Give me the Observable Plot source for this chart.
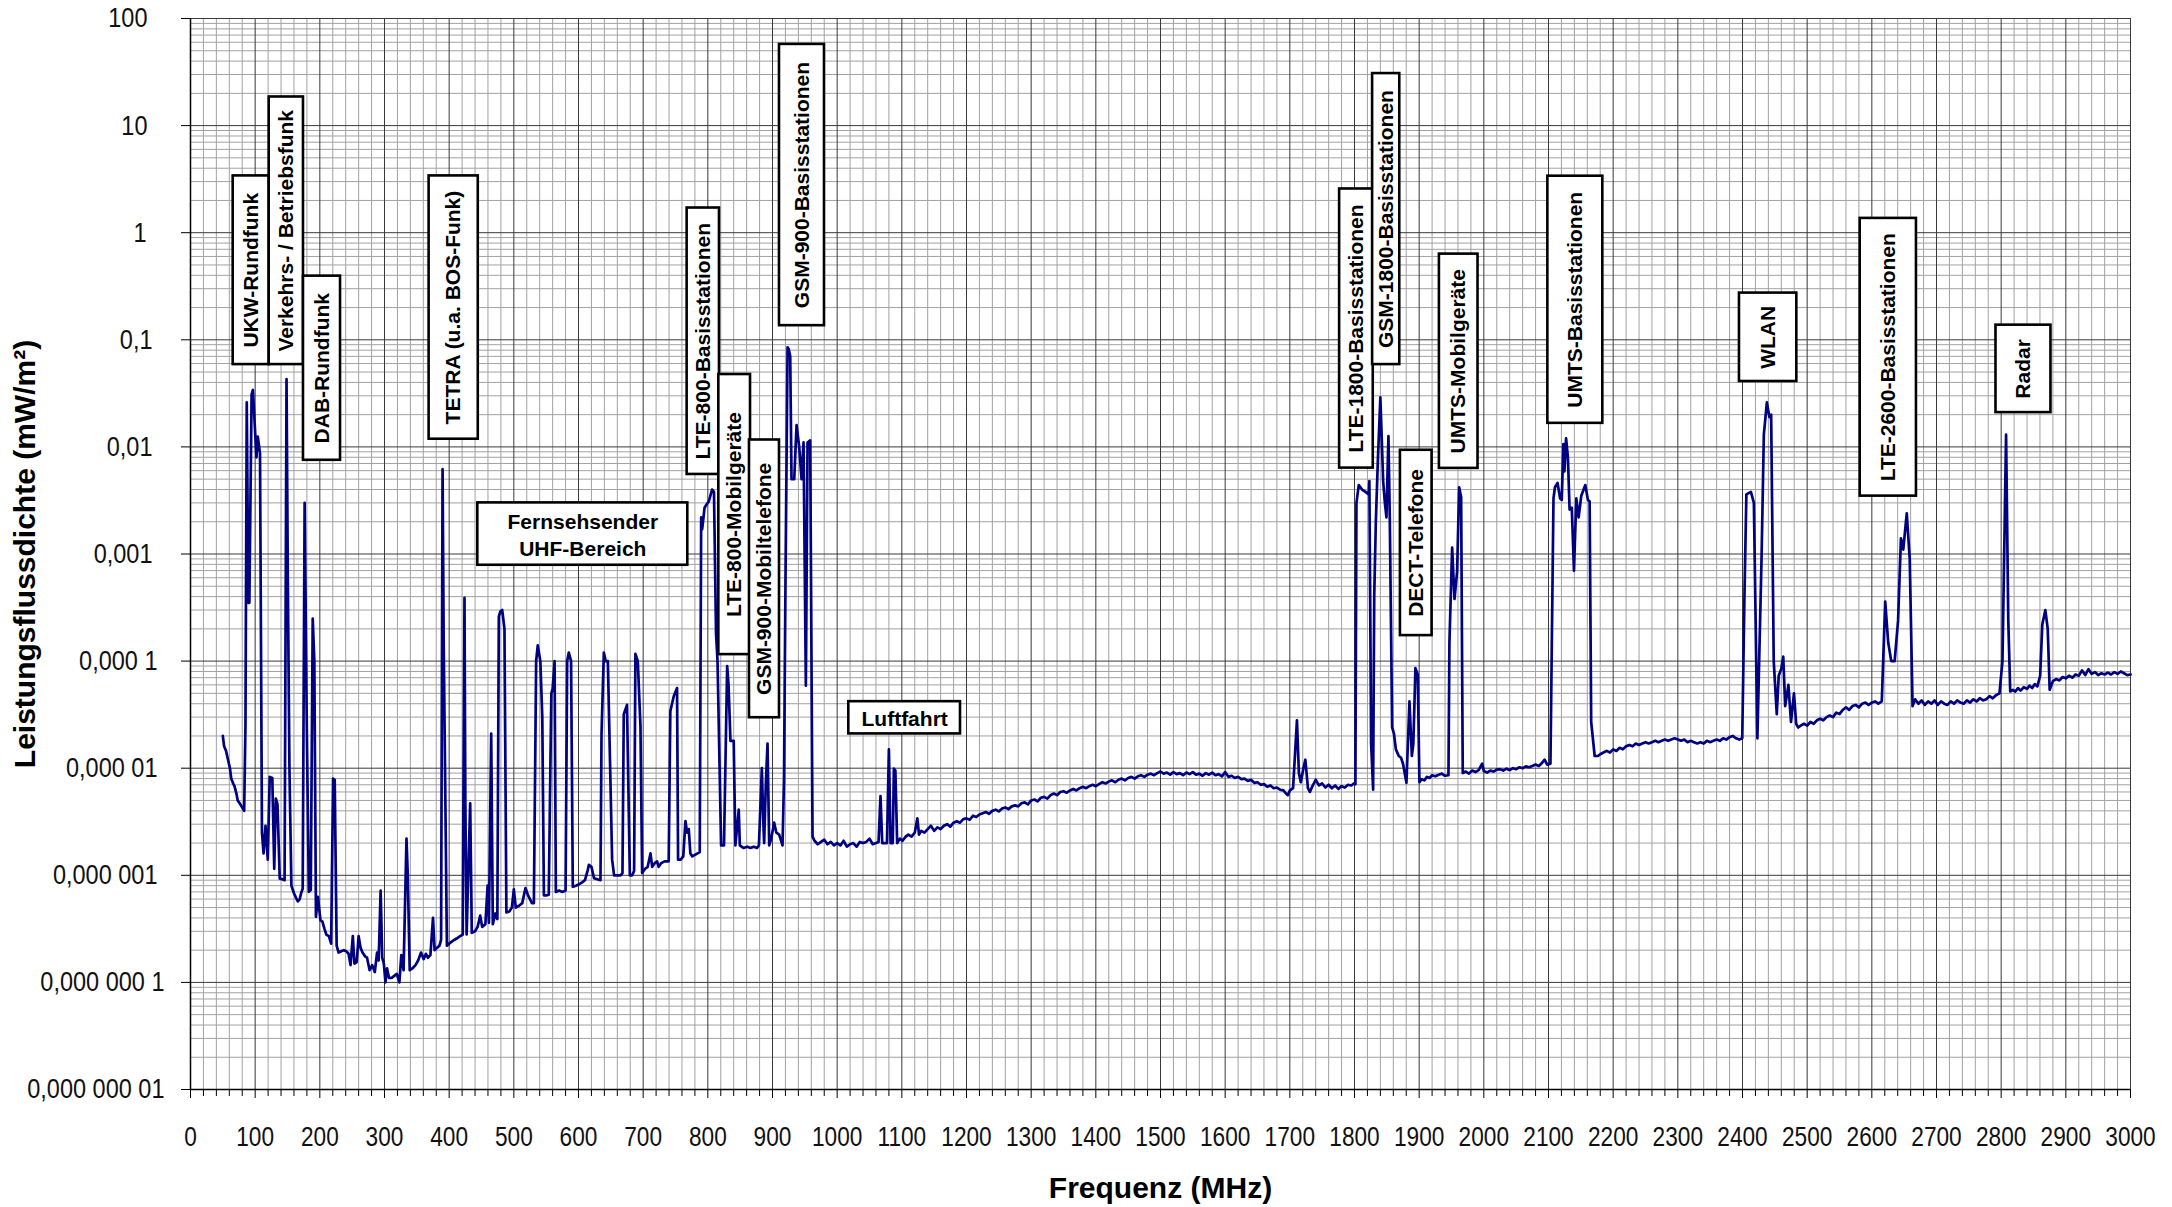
<!DOCTYPE html>
<html>
<head>
<meta charset="utf-8">
<script src="https://cdn.jsdelivr.net/npm/d3@7"></script>
<script src="https://cdn.jsdelivr.net/npm/@observablehq/plot@0.6"></script>
<style>
  html, body { margin: 0; padding: 0; background: #fff; }
  #chart svg { display: block; }
</style>
</head>
<body>
<div id="chart"></div>
<script>
// ---- Data: measured power flux density spectrum ----
const freqMHz = [
  50,52,55,58,61,63,66,68,71,73,76,78,81,83,85,87,89.5,91,94.5,96.5,102,104,107.5,110.5,113,116,119.5,122.5,126.5,129.5,132,134.5,138,142,145.5,148.5,150.5,153,156,160,163,166,169,171,173.5,176.5,180,183,186,189,191.5,194,197,201,204,207,210,214,217.5,220.5,223,226,229,233,237,241,244.5,247.5,251,253.5,257,260,263,266,270,273,277,281,285,288.5,291,294,296.5,299,301.5,304,307,311,315,319,323,326,329.5,334,336,339,343,348,352,356.5,360.5,364,367,371,375,377.5,381,385,387.5,389.8,391.5,396.5,400,404,408,413,417,421,423.7,425,427,432.5,435,440,444,448,451,456,459.5,461.5,465,467.5,471.5,474.5,476.8,479,482,485.5,488.5,493,497,500,503,508,513,518,522,528,531,534.5,537,541,544,546.5,550,554,558,560,563,565,570,575,580,582.5,585,588.5,591.2,596,600,605.5,610,614,616,620,624,629,634,635.6,639.2,642,645.4,649.5,652,655,660,665,668,670,675,679.4,683,686,688,691.7,695.8,698.4,703,707,711.3,714,718,721.5,724,728,733,739.5,742,747.3,752.4,754,758,762,765.4,768,770.5,773,776,780,784,787.5,789.7,791.2,794.9,798,801.5,806.6,809.5,812.7,815,820.5,825,829.9,832,835,840,842.6,847.8,849.5,855,861,866,871,876,879,883.5,886,887.1,889.7,892.3,894.9,898,902.6,906,910.3,915.5,917.8,920.1,923.3,925,927.4,929.4,933.6,937.2,941.3,944.9,948,951.6,954.2,958.3,961.9,
  965,970,975,980,985,990,995,1000,1005,1010,1015,1020,1025,1030,1035,1040,1045,1050,1055,1060,1064,1067,1069.7,1074,1077,1080,1082.6,1086,1087.7,1090,1092.8,1097,1101,1106,1110,1115,1120,1124,1126.6,1130,1135,1140,1145,1150,1155,1160,1165,1170,1175,1180,1185,1190,1195,1200,1205,1210,1215,1220,1225,1230,1235,1240,1245,1250,1255,1260,1265,1270,1275,1280,1285,1290,1295,1300,1305,1310,1315,1320,1325,1330,1335,1340,1345,1350,1355,1360,1365,1370,1375,1380,1385,1390,1395,1400,1405,1410,1415,1420,1425,1430,1435,1440,1445,1450,1455,1460,1465,1470,1475,1480,1485,1490,1495,1500,1505,1510,1515,1520,1525,1530,1535,1540,1545,1550,1555,1560,1565,1570,1575,1580,1585,1590,1595,1600,1605,1610,1615,1620,1625,1630,1635,1640,1645,1650,1655,1660,1665,1670,1675,1680,1685,1690,1693,1697,1700,1705,1711,1714,1717,1721,1724,1728,1731,1735,1740,1745,1750,1755,1760,1765,1770,1775,1780,1785,1790,1795,1799,1801.4,1803,1806.6,1811.7,1817,1822,1823,1825.7,1828.8,1830.5,1833,1836,1840,1844.3,1847,1849.4,1852.5,1854.6,1858.2,1861,1864,1868.5,1872,1875,1880.3,1885,1888.7,1891,1894.2,1897.8,1900.4,1904,1908,1912,1916,1920,1925,1930,1935,1940,1945.3,1946.8,1951,1954.6,1958.7,1961.8,1964.9,1967.4,1972,1977,1982,1987,1992,1997.4,2000,2005,2010,2015,2020,2025,2030,2035,2040,2045,2050,2055,2060,2065,2070,2075,2080,2085,2090,2094,2098,2103,2107.7,2110,2114,2118,2120.5,2123,2124.6,2127.2,2130,2132.6,2136,2139.4,2143,2146.6,2150.7,2156.9,2161,2163.6,2166,2171.4,2176.5,2180,2185,2190,2195,2200,2205,2210,2215,2220,2225,2230,2235,2240,2245,2250,2255,2260,2265,2270,2275,2280,2285,2290,2295,2300,2305,2310,2315,2320,2325,2330,2335,2340,2345,2350,2355,2360,2365,2370,2375,2380,2385,2390,2395,2399.6,2403,2406,2413,2417.6,2423,2429.6,2433,2437.7,2441.6,2444.3,2448.3,2453,2456,2460,2463,2466,2471,2475,2479.6,2483,2486,2490,2495,2500,2505,2510,2515,2520,2525,2530,2535,2540,2545,2550,2555,2560,2565,2570,2575,2580,2585,2590,2595,2600,2605,2610,2615.4,2620.7,2625.3,2630,2635.3,2640.6,2645,2648.6,2654,2658.6,2663,2667,2672,2677,2682,2687,2692,2697,2702,2707,2712,2717,2722,2727,2732,2737,2742,2747,2752,2757,2762,2767,2772,2777,2782,2787,2792,2797.4,2802,2807.6,2811,2814,2818,2822,2826,2830,2835,2840,2843.8,2848,2852,2856,2860.3,2863.6,2868.3,2872,2875,2880,2885,2890,2895,2900,2905,2910,2915,2920,2925,2930,2935,2940,2945,2950,2955,2960,2965,2970,2975,2980,2985,2990,2995,3000
];
const powerDensity = [
  2.0e-5,1.6e-5,1.45e-5,1.2e-5,1.0e-5,8.0e-6,7.2e-6,6.8e-6,5.8e-6,5.0e-6,4.7e-6,4.5e-6,4.2e-6,4.0e-6,2.5e-5,0.026,3.5e-4,3.5e-4,0.031,0.034,0.008,0.0125,0.0087,2.5e-6,1.6e-6,2.9e-6,1.4e-6,8.3e-6,8.1e-6,1.15e-6,5.2e-6,4.6e-6,9.3e-7,9.2e-7,9.0e-7,0.043,5.8e-4,1.0e-5,8.0e-7,6.8e-7,6.2e-7,5.7e-7,6.0e-7,6.8e-7,7.5e-7,0.003,2.0e-5,7.0e-7,7.3e-7,2.5e-4,1.0e-4,4.1e-7,6.3e-7,3.8e-7,3.7e-7,3.2e-7,2.8e-7,2.7e-7,2.3e-7,8.0e-6,7.8e-6,2.2e-7,1.9e-7,1.95e-7,2.0e-7,1.95e-7,1.85e-7,1.45e-7,2.7e-7,1.5e-7,1.55e-7,2.7e-7,2.1e-7,1.9e-7,1.75e-7,1.7e-7,1.3e-7,1.45e-7,1.25e-7,1.9e-7,1.6e-7,7.2e-7,1.7e-7,1.5e-7,1.0e-7,1.35e-7,1.1e-7,1.1e-7,1.15e-7,1.2e-7,1.0e-7,1.8e-7,1.3e-7,2.2e-6,1.0e-6,1.3e-7,1.35e-7,1.45e-7,1.6e-7,1.9e-7,1.65e-7,1.85e-7,1.7e-7,1.8e-7,4.0e-7,2.0e-7,2.1e-7,2.2e-7,2.5e-7,0.0062,1.6e-4,2.2e-7,2.3e-7,2.4e-7,2.5e-7,2.6e-7,2.7e-7,2.8e-7,3.9e-4,5.0e-6,2.8e-7,4.7e-6,2.9e-7,3.0e-7,3.3e-7,4.2e-7,3.3e-7,3.5e-7,8.0e-7,3.6e-7,2.1e-5,3.5e-7,4.4e-7,3.9e-7,2.6e-4,2.9e-4,3.0e-4,2.0e-4,4.5e-7,4.6e-7,5.0e-7,7.4e-7,5.0e-7,5.2e-7,5.5e-7,7.6e-7,6.5e-7,5.5e-7,5.5e-7,1.0e-4,1.4e-4,1.0e-4,3.0e-5,6.5e-7,6.5e-7,6.6e-7,5.0e-5,5.5e-5,1.0e-4,7.0e-7,7.2e-7,7.0e-7,7.2e-7,1.0e-4,1.2e-4,1.0e-4,7.8e-7,8.0e-7,8.2e-7,8.6e-7,9.0e-7,1.1e-6,1.25e-6,1.2e-6,9.4e-7,9.2e-7,9.0e-7,2.1e-5,1.2e-4,1.0e-4,1.0e-4,7.0e-6,1.4e-6,1.0e-6,1.0e-6,1.0e-6,1.05e-6,3.2e-5,3.9e-5,1.0e-6,1.0e-6,1.1e-6,1.17e-4,1.0e-4,2.5e-5,1.05e-6,1.15e-6,1.2e-6,1.6e-6,1.2e-6,1.3e-6,1.35e-6,1.2e-6,1.3e-6,1.35e-6,1.35e-6,3.4e-5,4.7e-5,5.6e-5,1.4e-6,1.4e-6,1.5e-6,3.2e-6,2.5e-6,2.7e-6,1.6e-6,1.5e-6,1.55e-6,1.6e-6,1.65e-6,0.0022,0.0017,0.0027,0.0029,0.0031,0.0040,0.0038,1.8e-4,1.0e-4,1.9e-6,1.9e-6,9.0e-5,6.0e-5,1.8e-5,1.8e-5,1.9e-6,4.1e-6,1.9e-6,1.8e-6,1.85e-6,1.8e-6,1.85e-6,1.8e-6,1.9e-6,1.0e-5,2.9e-6,2.0e-6,7.2e-6,1.7e-5,1.9e-6,2.2e-6,3.1e-6,2.5e-6,2.4e-6,1.9e-6,8.0e-6,5.7e-4,0.085,0.082,0.07,0.005,0.005,0.016,0.01,0.005,0.011,5.9e-5,0.011,0.0115,2.3e-6,
  2.1e-6,1.95e-6,2.05e-6,2.15e-6,1.95e-6,2.05e-6,1.9e-6,2.0e-6,1.9e-6,2.1e-6,1.85e-6,1.95e-6,2.0e-6,1.85e-6,2.05e-6,2.0e-6,2.05e-6,2.2e-6,1.95e-6,2.0e-6,2.05e-6,5.5e-6,2.0e-6,2.0e-6,2.0e-6,1.5e-5,2.0e-6,2.0e-6,9.9e-6,9.5e-6,2.0e-6,2.2e-6,2.1e-6,2.3e-6,2.4e-6,2.3e-6,2.5e-6,3.4e-6,2.4e-6,2.6e-6,2.5e-6,2.7e-6,2.9e-6,2.6e-6,2.8e-6,2.7e-6,2.9e-6,3.0e-6,2.85e-6,3.1e-6,3.2e-6,3.1e-6,3.35e-6,3.4e-6,3.3e-6,3.6e-6,3.5e-6,3.7e-6,3.8e-6,3.9e-6,3.75e-6,4.0e-6,4.1e-6,3.95e-6,4.2e-6,4.3e-6,4.15e-6,4.4e-6,4.5e-6,4.4e-6,4.7e-6,4.8e-6,4.6e-6,5.0e-6,5.1e-6,4.9e-6,5.3e-6,5.4e-6,5.2e-6,5.6e-6,5.8e-6,5.6e-6,6.0e-6,6.1e-6,5.9e-6,6.2e-6,6.4e-6,6.2e-6,6.5e-6,6.7e-6,6.5e-6,6.8e-6,7.0e-6,6.8e-6,7.1e-6,7.4e-6,7.2e-6,7.5e-6,7.7e-6,7.4e-6,7.8e-6,8.0e-6,7.7e-6,8.1e-6,8.3e-6,8.0e-6,8.4e-6,8.6e-6,8.3e-6,8.7e-6,8.9e-6,8.6e-6,9.0e-6,9.3e-6,8.9e-6,9.1e-6,8.7e-6,9.2e-6,8.8e-6,9.0e-6,8.6e-6,9.1e-6,8.8e-6,9.2e-6,8.7e-6,8.9e-6,8.5e-6,9.0e-6,8.7e-6,9.1e-6,8.6e-6,8.8e-6,8.4e-6,9.2e-6,8.3e-6,8.5e-6,8.1e-6,8.3e-6,7.9e-6,8.0e-6,7.6e-6,7.8e-6,7.3e-6,7.4e-6,7.0e-6,7.1e-6,6.7e-6,6.9e-6,6.5e-6,6.6e-6,6.3e-6,6.2e-6,5.9e-6,5.6e-6,6.2e-6,6.5e-6,2.8e-5,9.0e-6,7.4e-6,1.0e-5,1.2e-5,6.5e-6,6.0e-6,6.8e-6,7.8e-6,6.9e-6,7.2e-6,6.6e-6,7.0e-6,6.5e-6,6.9e-6,6.4e-6,6.8e-6,6.6e-6,7.0e-6,6.9e-6,7.2e-6,7.1e-6,0.003,0.0044,0.0040,0.0038,0.0036,0.0048,1.7e-5,6.3e-6,4.0e-4,0.002,0.0071,0.029,0.0048,0.003,0.0022,0.0126,0.0021,2.4e-5,2.1e-5,1.5e-5,1.3e-5,1.25e-5,1.1e-5,7.3e-6,4.2e-5,1.3e-5,1.7e-5,8.6e-5,7.5e-5,7.4e-6,7.9e-6,7.7e-6,8.3e-6,8.1e-6,8.6e-6,8.4e-6,8.7e-6,8.9e-6,8.5e-6,8.6e-6,1.5e-4,1.15e-3,3.8e-4,6.9e-4,0.0042,0.0034,9.0e-6,9.3e-6,8.9e-6,9.5e-6,9.2e-6,9.6e-6,1.1e-5,9.4e-6,9.1e-6,9.5e-6,9.3e-6,9.7e-6,9.8e-6,9.5e-6,9.9e-6,9.6e-6,1.0e-5,9.8e-6,1.02e-5,1.0e-5,1.04e-5,1.02e-5,1.05e-5,1.08e-5,1.05e-5,1.12e-5,1.2e-5,1.08e-5,1.1e-5,0.0033,0.0042,0.0046,0.0033,0.0032,0.0106,0.0059,0.012,0.008,0.0026,0.0027,7.0e-4,0.0033,0.0022,0.0035,0.0044,0.0032,0.0031,2.7e-5,1.3e-5,1.3e-5,1.35e-5,1.4e-5,1.45e-5,1.4e-5,1.5e-5,1.45e-5,1.55e-5,1.5e-5,1.6e-5,1.65e-5,1.6e-5,1.7e-5,1.65e-5,1.7e-5,1.75e-5,1.7e-5,1.75e-5,1.8e-5,1.75e-5,1.8e-5,1.85e-5,1.8e-5,1.85e-5,1.9e-5,1.85e-5,1.8e-5,1.85e-5,1.75e-5,1.8e-5,1.75e-5,1.7e-5,1.75e-5,1.7e-5,1.8e-5,1.75e-5,1.8e-5,1.85e-5,1.8e-5,1.9e-5,1.85e-5,1.95e-5,2.0e-5,1.9e-5,1.85e-5,1.9e-5,4.0e-4,0.0036,0.0038,0.0030,1.9e-5,1.0e-3,0.013,0.026,0.019,0.020,1.0e-4,3.2e-5,7.3e-5,8.5e-5,1.1e-4,3.8e-5,6.0e-5,2.7e-5,5.0e-5,2.6e-5,2.4e-5,2.5e-5,2.6e-5,2.5e-5,2.7e-5,2.6e-5,2.8e-5,2.9e-5,2.8e-5,3.0e-5,3.1e-5,3.0e-5,3.3e-5,3.2e-5,3.5e-5,3.7e-5,3.5e-5,3.8e-5,3.9e-5,3.7e-5,4.0e-5,4.1e-5,3.9e-5,4.1e-5,4.2e-5,4.0e-5,4.2e-5,3.6e-4,1.5e-4,1.0e-4,1.0e-4,2.4e-4,0.0014,0.0011,0.0024,9.0e-4,3.8e-5,4.4e-5,4.0e-5,4.3e-5,3.9e-5,4.2e-5,4.0e-5,4.3e-5,3.9e-5,4.2e-5,4.0e-5,3.9e-5,4.2e-5,4.0e-5,4.3e-5,4.1e-5,4.0e-5,4.3e-5,4.1e-5,4.4e-5,4.2e-5,4.5e-5,4.3e-5,4.4e-5,4.7e-5,4.5e-5,4.8e-5,5.0e-5,1.0e-4,0.013,2.4e-4,5.2e-5,5.4e-5,5.2e-5,5.6e-5,5.3e-5,5.7e-5,5.5e-5,5.9e-5,5.6e-5,6.1e-5,5.8e-5,7.3e-5,2.2e-4,3.0e-4,2.0e-4,5.4e-5,6.5e-5,6.8e-5,6.6e-5,7.1e-5,6.9e-5,7.3e-5,7.0e-5,7.5e-5,7.3e-5,8.2e-5,7.4e-5,8.4e-5,7.6e-5,7.9e-5,7.4e-5,7.7e-5,7.5e-5,7.8e-5,7.5e-5,7.9e-5,7.6e-5,8.0e-5,7.7e-5,7.4e-5,7.5e-5
];

// ---- Axis ticks ----
const xTickValues = d3.range(0, 3001, 100);
const yTickValues = [1e-8, 1e-7, 1e-6, 1e-5, 1e-4, 1e-3, 1e-2, 1e-1, 1, 10, 100];
const yTickLabels = ["0,000 000 01", "0,000 000 1", "0,000 001", "0,000 01", "0,000 1", "0,001", "0,01", "0,1", "1", "10", "100"];

// ---- Annotation boxes (frequency range, value range) ----
const bandNames = ["UKW-Rundfunk", "Verkehrs- / Betriebsfunk", "DAB-Rundfunk", "TETRA (u.a. BOS-Funk)", "Fernsehsender\nUHF-Bereich", "LTE-800-Basisstationen", "LTE-800-Mobilgeräte", "GSM-900-Mobiltelefone", "GSM-900-Basisstationen", "Luftfahrt", "LTE-1800-Basisstationen", "GSM-1800-Basisstationen", "DECT-Telefone", "UMTS-Mobilgeräte", "UMTS-Basisstationen", "WLAN", "LTE-2600-Basisstationen", "Radar"];
const bandFrom  = [66, 121.7, 174.7, 369, 444.3, 768, 817, 864.4, 910.8, 1018, 1777, 1828, 1871, 1931.3, 2099, 2395.3, 2582, 2792];
const bandTo    = [121.7, 174.7, 232, 445, 769, 818, 866, 910.8, 980.4, 1190.7, 1829, 1870, 1920, 1991, 2184, 2484, 2669, 2877];
const bandTop   = [3.39, 18.5, 0.393, 3.39, 0.0030, 1.70, 0.0474, 0.0116, 57.3, 4.18e-5, 2.56, 30.6, 0.0093, 0.631, 3.37, 0.273, 1.36, 0.137];
const bandBottom= [0.0587, 0.0587, 0.0075, 0.0118, 7.85e-4, 0.00553, 1.15e-4, 2.96e-5, 0.1355, 2.09e-5, 0.00634, 0.0587, 1.73e-4, 0.0063, 0.0166, 0.0408, 0.00347, 0.0209];
const bandVertical = [true, true, true, true, false, true, true, true, true, false, true, true, true, true, true, true, true, true];

const spectrum = freqMHz.map((f, i) => ({f, v: powerDensity[i]}));
const bands = bandNames.map((name, i) => ({
  name, x1: bandFrom[i], x2: bandTo[i], y1: bandBottom[i], y2: bandTop[i], vertical: bandVertical[i],
  xm: (bandFrom[i] + bandTo[i]) / 2, ym: Math.sqrt(bandTop[i] * bandBottom[i])
}));

const xMinor = d3.range(0, 3001, 20).filter(d => d % 100 !== 0);
const yMinor = yTickValues.slice(0, -1).flatMap(d => [2,3,4,5,6,7,8,9].map(k => d * k));

const sans = "'Liberation Sans', Arial, Helvetica, sans-serif";
// horizontal nudge of each y tick label (the original's labels are not flush-right)
const yLabelNudge = [7, 7, 0, 0, 0, -5, -5, -5, -11, -10, -10];

const chart = Plot.plot({
  width: 2172,
  height: 1207,
  marginLeft: 190,
  marginRight: 42,
  marginTop: 18,
  marginBottom: 118,
  style: {background: "white", fontFamily: sans, color: "black"},
  x: {domain: [0, 3000]},
  y: {type: "log", domain: [1e-8, 100]},
  marks: [
    Plot.ruleX(xMinor, {stroke: "#a2a2a2", strokeWidth: 1}),
    Plot.ruleY(yMinor, {stroke: "#a2a2a2", strokeWidth: 1}),
    Plot.ruleX(xTickValues, {stroke: "#3a3a3a", strokeWidth: 1}),
    Plot.ruleY(yTickValues, {stroke: "#3a3a3a", strokeWidth: 1}),
    Plot.ruleX([0], {stroke: "black", strokeWidth: 1.5}),
    Plot.ruleY([1e-8], {stroke: "black", strokeWidth: 1.5}),
    Plot.axisX({ticks: xMinor, tickSize: 7, tickFormat: () => "", label: null, stroke: "black"}),
    Plot.axisX({ticks: xTickValues, tickSize: 9, tickPadding: 28, tickFormat: d => String(d), label: null,
      fontSize: 27, fontFamily: sans, stroke: "black", fill: "#111"}),
    Plot.axisY({ticks: yTickValues, tickSize: 9, tickPadding: 24,
      tickFormat: d => yTickLabels[yTickValues.indexOf(d)], label: null,
      fontSize: 28, fontFamily: sans, stroke: "black", fill: "#111"}),
    Plot.line(spectrum, {x: "f", y: "v", stroke: "#000080", strokeWidth: 2.7, strokeLinejoin: "round"}),
    Plot.rect(bands, {x1: "x1", x2: "x2", y1: "y1", y2: "y2", fill: "white", stroke: "black", strokeWidth: 2.6}),
    Plot.text(bands.filter(d => d.vertical), {x: "xm", y: "ym", text: "name", rotate: -90,
      fontSize: 21, fontWeight: "bold", fontFamily: sans, fill: "black"}),
    Plot.text(bands.filter(d => !d.vertical), {x: "xm", y: "ym", text: "name", lineHeight: 1.27,
      fontSize: 21, fontWeight: "bold", fontFamily: sans, fill: "black"}),
    Plot.text(["Leistungsflussdichte (mW/m²)"], {frameAnchor: "left", dx: -165, rotate: -90,
      textAnchor: "middle", lineAnchor: "middle",
      fontSize: 30, fontWeight: "bold", fontFamily: sans, fill: "black"}),
    Plot.text(["Frequenz (MHz)"], {frameAnchor: "bottom", dy: 99, textAnchor: "middle", lineAnchor: "middle",
      fontSize: 30, fontWeight: "bold", fontFamily: sans, fill: "black"})
  ]
});

// Condense the tick-label glyphs (the original uses a narrow face)
d3.select(chart).selectAll('g[aria-label="x-axis tick label"] text')
  .attr("transform", function() {
    return (this.getAttribute("transform") || "") + " scale(0.84,1)";
  });
d3.select(chart).selectAll('g[aria-label="y-axis tick label"] text')
  .attr("transform", function() {
    const label = this.textContent;
    const i = yTickLabels.indexOf(label);
    const nudge = i >= 0 ? yLabelNudge[i] : 0;
    return `translate(${nudge},0) ` + (this.getAttribute("transform") || "") + " scale(0.84,1)";
  });

document.getElementById("chart").appendChild(chart);
</script>
</body>
</html>
